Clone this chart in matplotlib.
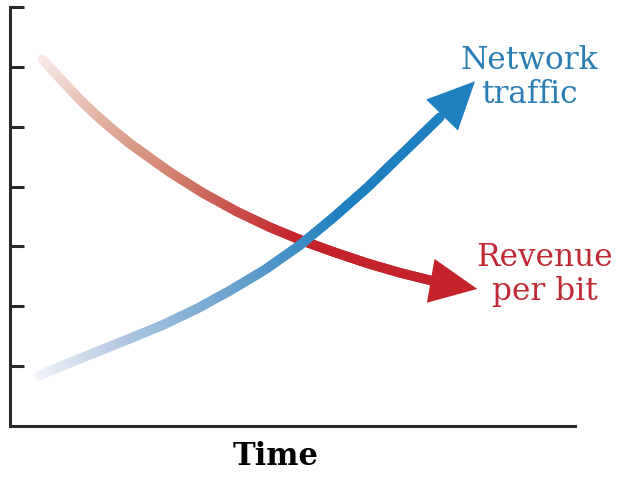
import numpy as np
import matplotlib
matplotlib.use("Agg")
import matplotlib.pyplot as plt
from matplotlib.collections import LineCollection
from matplotlib.colors import LinearSegmentedColormap

# ---- data (arbitrary units) ----
time_x_traffic = [0.53, 0.94, 1.54, 2.12, 2.71, 3.31, 3.89, 4.51, 5.13, 5.72,
                  6.32, 6.90, 7.61, 8.23]
traffic_y      = [0.85, 1.01, 1.24, 1.46, 1.69, 1.96, 2.26, 2.61, 3.02, 3.48,
                  3.98, 4.51, 5.16, 5.76]

time_x_revenue = [0.57, 0.94, 1.24, 1.54, 1.82, 2.12, 2.43, 2.83, 3.42, 4.02,
                  4.60, 5.19, 5.72, 6.32, 6.90, 7.54, 8.27]
revenue_y      = [6.13, 5.75, 5.45, 5.18, 4.95, 4.72, 4.51, 4.24, 3.89, 3.58,
                  3.32, 3.09, 2.91, 2.72, 2.56, 2.41, 2.29]

y_ticks = [1, 2, 3, 4, 5, 6, 7]
traffic_label = "Network\ntraffic"
revenue_label = "Revenue\nper bit"
x_label = "Time"

BLUE = "#1f80c0"
RED = "#c4232c"
BLUE_TEXT = "#2a7db5"
RED_TEXT = "#bf2a35"

fig = plt.figure(figsize=(6.40, 4.81), dpi=100)
ax = fig.add_axes([10 / 640, 54 / 481, 565 / 640, 419 / 481])
ax.set_xlim(0, 10)
ax.set_ylim(0, 7)


def gradient_line(xs, ys, cmap, z):
    xs = np.asarray(xs, float)
    ys = np.asarray(ys, float)
    # subdivide each straight segment (same polyline geometry) for smooth colour
    px, py = [], []
    for i in range(len(xs) - 1):
        t = np.linspace(0, 1, 20, endpoint=False)
        px.extend(xs[i] + (xs[i + 1] - xs[i]) * t)
        py.extend(ys[i] + (ys[i + 1] - ys[i]) * t)
    px.append(xs[-1]); py.append(ys[-1])
    pts = np.column_stack([px, py])
    segs = np.stack([pts[:-1], pts[1:]], axis=1)
    d = np.r_[0, np.cumsum(np.hypot(np.diff(px), np.diff(py)))]
    frac = d[:-1] / d[-1]
    lc = LineCollection(segs, colors=cmap(frac), linewidths=6.9,
                        capstyle="round", joinstyle="round", zorder=z)
    ax.add_collection(lc)


blue_cmap = LinearSegmentedColormap.from_list(
    "b", [(0, "#f0f3f8"), (0.2, "#afc6e1"), (0.5, "#5b9bcb"), (0.72, BLUE), (1, BLUE)])
red_cmap = LinearSegmentedColormap.from_list(
    "r", [(0, "#f8ecea"), (0.18, "#e2b2a2"), (0.42, "#cf7766"), (0.68, RED), (1, RED)])

gradient_line(time_x_revenue[:-1], revenue_y[:-1], red_cmap, 2)
gradient_line(time_x_traffic[:-1], traffic_y[:-1], blue_cmap, 3)

for xs, ys, c, z in [(time_x_revenue, revenue_y, RED, 2),
                     (time_x_traffic, traffic_y, BLUE, 3)]:
    ax.annotate("", xy=(xs[-1], ys[-1]), xytext=(xs[-2], ys[-2]),
                arrowprops=dict(arrowstyle="-|>,head_length=1.7,head_width=0.8",
                                mutation_scale=20, color=c, lw=0,
                                shrinkA=0, shrinkB=0),
                zorder=z + 1)

ax.text(9.19, 5.41, traffic_label, color=BLUE_TEXT, fontsize=22.5,
        family="DejaVu Serif", ha="center", va="baseline", linespacing=1.12)
ax.text(9.47, 2.12, revenue_label, color=RED_TEXT, fontsize=22.5,
        family="DejaVu Serif", ha="center", va="baseline", linespacing=1.12)

for s in ["top", "right"]:
    ax.spines[s].set_visible(False)
for s in ["left", "bottom"]:
    ax.spines[s].set_linewidth(2.2)
    ax.spines[s].set_color("#2a2a2a")

ax.set_yticks(y_ticks)
ax.set_yticklabels([])
ax.set_xticks([])
ax.tick_params(axis="y", direction="in", length=10, width=2.2, color="#2a2a2a")

ax.set_xlabel(x_label, fontsize=22, fontweight="bold", family="DejaVu Serif")
ax.xaxis.label.set_va("baseline")
ax.xaxis.set_label_coords((276 - 10) / 565, -38 / 419)

fig.savefig("out.png", dpi=100, facecolor="white")
